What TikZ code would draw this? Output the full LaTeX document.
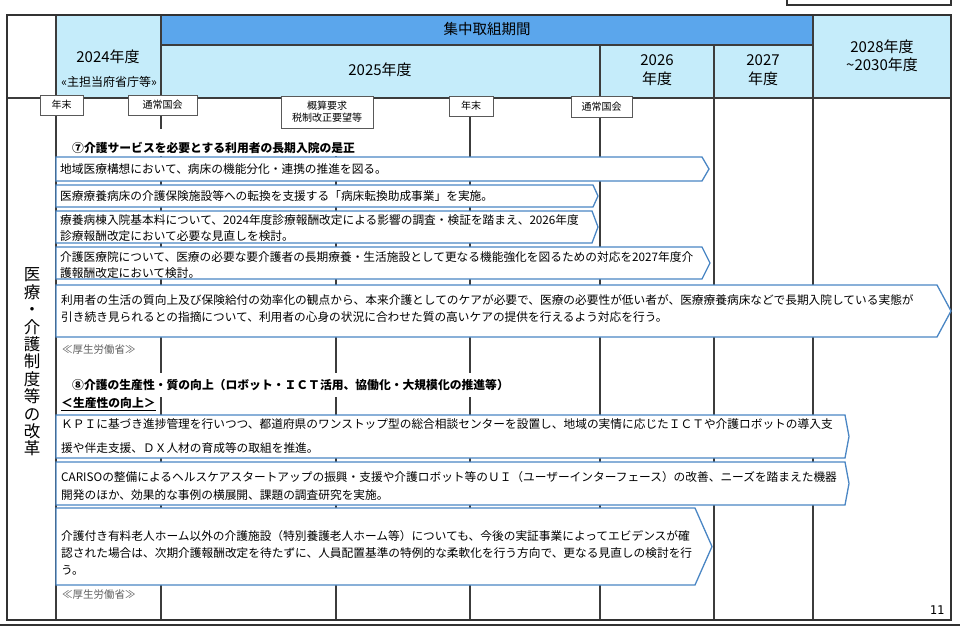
\documentclass[tikz,border=0pt]{standalone}
\usepackage{fontspec}
\setmainfont{Noto Sans CJK JP}
\newfontfamily\numfont{DejaVu Sans Mono}
\definecolor{hdrdark}{RGB}{91,166,236}
\definecolor{hdrlight}{RGB}{197,236,250}
\definecolor{arrowblue}{RGB}{74,134,196}
\definecolor{gridc}{RGB}{60,60,60}
\definecolor{framec}{RGB}{50,50,50}
\tikzset{
 gridline/.style={draw=gridc, line width=1.1pt},
 framel/.style={draw=framec, line width=1.6pt},
 tlbox/.style={draw=gray!70!black, fill=white, line width=0.8pt, inner sep=0pt, align=center, font=\fontsize{10}{12}\selectfont},
 arr/.style={draw=arrowblue, fill=white, line width=1.3pt, line join=miter},
 txt/.style={anchor=west, inner sep=0pt, align=left},
 hdr/.style={inner sep=0pt, align=center, font=\fontsize{15}{18}\selectfont},
 ttl/.style={anchor=west, inner sep=0pt, font=\bfseries\fontsize{11.8}{14}\selectfont},
 mhlw/.style={anchor=west, inner sep=0pt, text=gray!75!black, font=\fontsize{10.5}{12}\selectfont},
}
\newcommand{\chevron}[5]{% x1, ytop, xslant, xtip, ybottom
 \draw[arr] (#1,#2) -- (#3,#2) -- (#4,{(#2+#5)/2}) -- (#3,#5) -- (#1,#5) -- cycle;}
\begin{document}
\begin{tikzpicture}[x=1pt,y=-1pt]
\useasboundingbox (0,0) rectangle (960,626);
% header fills
\fill[hdrlight] (56,15) rectangle (161,98);
\fill[hdrdark] (161,15) rectangle (813,45);
\fill[hdrlight] (161,45) rectangle (813,98);
\fill[hdrlight] (813,15) rectangle (951,98);
% grid
\draw[gridline] (56,15) -- (56,620);
\draw[gridline] (161,15) -- (161,620);
\draw[gridline] (600,45) -- (600,620);
\draw[gridline] (714,45) -- (714,620);
\draw[gridline] (813,15) -- (813,620);
\draw[gridline] (336,98) -- (336,620);
\draw[gridline] (470,98) -- (470,620);
\draw[gridline] (161,45) -- (813,45);
\draw[gridline] (7,98) -- (951,98);
\draw[framel] (7,15) rectangle (951,620);
\draw[framel] (787,-10) rectangle (951,5);
\draw[draw=framec, line width=2pt] (0,624.5) -- (960,624.5);
% header texts
\node[hdr, font=\fontsize{14.5}{17}\selectfont] (h0) at (487,29) {集中取組期間};
\node[hdr] (h24) at (108,57) {2024年度};
\node[hdr, font=\fontsize{12}{14}\selectfont] (h24b) at (109,82) {«主担当府省庁等»};
\node[hdr] (h25) at (380,70) {2025年度};
\node[hdr, font=\fontsize{15}{18.5}\selectfont] (h26) at (657,70) {2026\\年度};
\node[hdr, font=\fontsize{15}{18.5}\selectfont] (h27) at (763,70) {2027\\年度};
\node[hdr, font=\fontsize{15}{17.5}\selectfont] (h28) at (882,56) {2028年度\\\textasciitilde2030年度};
% timeline labels
\node[tlbox, minimum width=43, minimum height=20] (ye1) at (61.5,105) {年末};
\node[tlbox, minimum width=69, minimum height=20] (tk1) at (162.5,105) {通常国会};
\node[tlbox, minimum width=92, minimum height=32] (gs) at (327,112) {概算要求\\税制改正要望等};
\node[tlbox, minimum width=44, minimum height=20] (ye2) at (471,106) {年末};
\node[tlbox, minimum width=61, minimum height=21] (tk2) at (601.5,106.5) {通常国会};
% left vertical label
\node[inner sep=0pt, align=center, font=\fontsize{16.5}{17.4}\selectfont] (vt) at (32,362) {医\\療\\・\\介\\護\\制\\度\\等\\の\\改\\革};
% section 7
\fill[white] (58,129) rectangle (464,156);
\node[ttl] (t7) at (72,148) {⑦介護サービスを必要とする利用者の長期入院の是正};
\chevron{56}{157}{702}{709}{181}
\node[txt, font=\fontsize{11.7}{16}\selectfont] (a1) at (60,169) {地域医療構想において、病床の機能分化・連携の推進を図る。};
\chevron{56}{185}{593}{598}{207}
\node[txt, font=\fontsize{11.7}{16}\selectfont] (a2) at (60,196) {医療療養病床の介護保険施設等への転換を支援する「病床転換助成事業」を実施。};
\chevron{56}{211}{592}{598}{243}
\node[txt, font=\fontsize{11.7}{16}\selectfont] (a3) at (60,228) {療養病棟入院基本料について、2024年度診療報酬改定による影響の調査・検証を踏まえ、2026年度\\診療報酬改定において必要な見直しを検討。};
\chevron{56}{247}{702}{710}{279}
\node[txt, font=\fontsize{11.7}{16}\selectfont] (a4) at (60,265) {介護医療院について、医療の必要な要介護者の長期療養・生活施設として更なる機能強化を図るための対応を2027年度介\\護報酬改定において検討。};
\chevron{56}{285}{937}{951}{337}
\node[txt, font=\fontsize{11.7}{17}\selectfont] (a5) at (61,309) {利用者の生活の質向上及び保険給付の効率化の観点から、本来介護としてのケアが必要で、医療の必要性が低い者が、医療療養病床などで長期入院している実態が\\引き続き見られるとの指摘について、利用者の心身の状況に合わせた質の高いケアの提供を行えるよう対応を行う。};
\node[mhlw] (m1) at (62,350) {≪厚生労働省≫};
% section 8
\fill[white] (58,373) rectangle (515,397);
\fill[white] (58,397) rectangle (158,411);
\node[ttl] (t8) at (72,385) {⑧介護の生産性・質の向上（ロボット・ＩＣＴ活用、協働化・大規模化の推進等）};
\node[ttl] (t8b) at (61,404) {\underline{＜生産性の向上＞}};
\chevron{56}{415}{845}{849}{458}
\node[txt, font=\fontsize{11.7}{24}\selectfont] (a6) at (61,436) {ＫＰＩに基づき進捗管理を行いつつ、都道府県のワンストップ型の総合相談センターを設置し、地域の実情に応じたＩＣＴや介護ロボットの導入支\\援や伴走支援、ＤＸ人材の育成等の取組を推進。};
\chevron{56}{462}{845}{849}{505}
\node[txt, font=\fontsize{11.7}{18}\selectfont] (a7) at (61,486) {CARISOの整備によるヘルスケアスタートアップの振興・支援や介護ロボット等のＵＩ（ユーザーインターフェース）の改善、ニーズを踏まえた機器\\開発のほか、効果的な事例の横展開、課題の調査研究を実施。};
\chevron{56}{508}{695}{712}{585}
\node[txt, font=\fontsize{11.7}{17}\selectfont] (a8) at (61,553) {介護付き有料老人ホーム以外の介護施設（特別養護老人ホーム等）についても、今後の実証事業によってエビデンスが確\\認された場合は、次期介護報酬改定を待たずに、人員配置基準の特例的な柔軟化を行う方向で、更なる見直しの検討を行\\う。};
\node[mhlw] (m2) at (62,595) {≪厚生労働省≫};
\node[inner sep=0pt, font=\numfont\fontsize{12}{14}\selectfont] (pg) at (937,610) {11};
\end{tikzpicture}
\end{document}
